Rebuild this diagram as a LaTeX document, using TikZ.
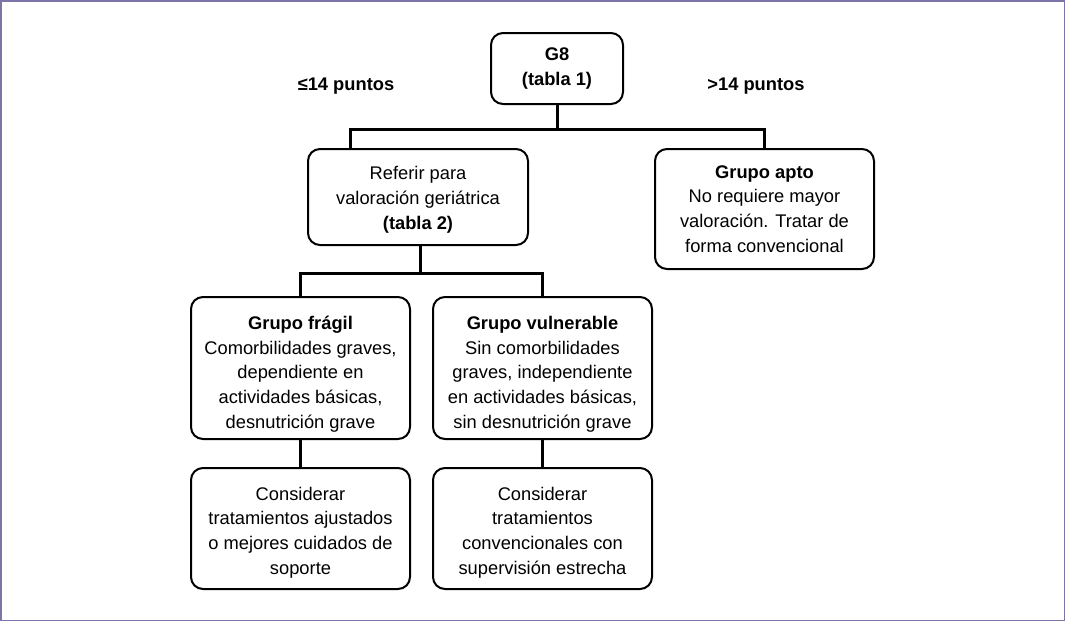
\documentclass[tikz,border=0pt]{standalone}
\usepackage{fontspec}
\setmainfont{Liberation Sans}
\begin{document}
\begin{tikzpicture}[x=1pt,y=-1pt,
	box/.style={draw,line width=2pt,rounded corners=12pt,align=center,inner sep=0pt,font=\fontsize{18.3}{24.7}\selectfont},
	textbox/.style={text height=#1,text depth=0pt},
	lab/.style={font=\fontsize{18.3}{24.7}\selectfont\bfseries},
	conn/.style={line width=3pt}]
	\useasboundingbox (0,0) rectangle (1065,621);
	\draw[line width=1.5pt,color={rgb,255:red,125;green,116;blue,168}] (0.75,0.75) rectangle (1064.25,620.25);
	% boxes
	\node[box,minimum width=132pt,minimum height=71pt] (g8) at (557,68.5) {\textbf{G8}\\\textbf{(tabla 1)}};
	\node[lab] (menos) at (346,86) {≤14 puntos};
	\node[lab] (mas) at (756,86) {>14 puntos};
	\node[box,minimum width=220pt,minimum height=96pt,textbox=64.6pt] (referir) at (418,197) {Referir para\\valoración geriátrica\\\textbf{(tabla 2)}};
	\node[box,minimum width=219pt,minimum height=120pt] (apto) at (764.5,209) {\textbf{Grupo apto}\\No requiere mayor\\valoración. Tratar de\\forma convencional};
	\node[box,minimum width=219pt,minimum height=142pt,textbox=120.6pt] (fragil) at (300.5,368) {\textbf{Grupo frágil}\\Comorbilidades graves,\\dependiente en\\actividades básicas,\\desnutrición grave};
	\node[box,minimum width=219pt,minimum height=142pt,textbox=120.6pt] (vulner) at (542.5,368) {\textbf{Grupo vulnerable}\\Sin comorbilidades\\graves, independiente\\en actividades básicas,\\sin desnutrición grave};
	\node[box,minimum width=219pt,minimum height=121pt,textbox=91.6pt] (consfragil) at (300.5,528.5) {Considerar\\tratamientos ajustados\\o mejores cuidados de\\soporte};
	\node[box,minimum width=219pt,minimum height=121pt,textbox=91.6pt] (consvulner) at (542.5,528.5) {Considerar\\tratamientos\\convencionales con\\supervisión estrecha};
	% connectors
	\draw[conn] (g8.south) -- ++(0,24) coordinate (split1);
	\draw[conn] ([xshift=-68pt]referir.north) |- (split1) -| (apto.north);
	\draw[conn] ([xshift=2pt]referir.south) -- ++(0,27) coordinate (split2);
	\draw[conn] (fragil.north) |- (split2) -| (vulner.north);
	\draw[conn] (fragil) -- (consfragil);
	\draw[conn] (vulner) -- (consvulner);
\end{tikzpicture}
\end{document}
